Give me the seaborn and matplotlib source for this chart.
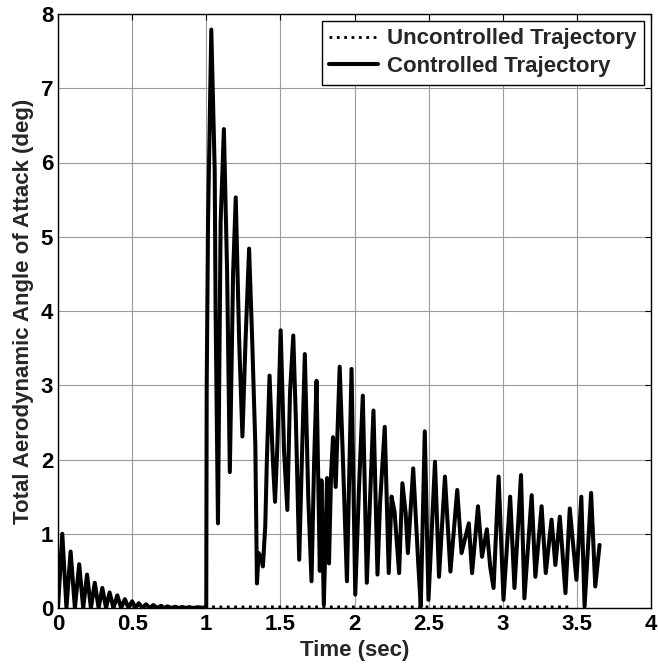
import matplotlib
matplotlib.use('Agg')
import matplotlib.pyplot as plt
import pandas as pd
import seaborn as sns

# 0-1 s: both trajectories coincide (rectified, decaying oscillation)
early_time = [0.0, 0.029, 0.057, 0.085, 0.114, 0.143, 0.170, 0.196, 0.222, 0.248,
              0.274, 0.299, 0.324, 0.348, 0.374, 0.400, 0.426, 0.451, 0.476, 0.500,
              0.523, 0.545, 0.570, 0.594, 0.619, 0.643, 0.669, 0.695, 0.717, 0.739,
              0.765, 0.790, 0.815, 0.839, 0.862, 0.884, 0.912, 0.940, 0.970, 0.995]
early_aoa = [0.0, 1.00, 0.0, 0.76, 0.0, 0.59, 0.0, 0.45, 0.0, 0.34,
             0.0, 0.27, 0.0, 0.21, 0.0, 0.17, 0.0, 0.12, 0.0, 0.09,
             0.0, 0.065, 0.0, 0.05, 0.0, 0.04, 0.0, 0.03, 0.0, 0.022,
             0.0, 0.017, 0.0, 0.014, 0.0, 0.012, 0.0, 0.01, 0.005, 0.005]

# uncontrolled after 1 s stays near zero
unc_time = [1.0, 3.47]
unc_aoa = [0.015, 0.015]

# controlled after 1 s
ctrl_time = [1.000, 1.003, 1.012, 1.034, 1.057, 1.063, 1.079, 1.097, 1.119, 1.141,
             1.159, 1.181, 1.199, 1.222, 1.244, 1.265, 1.289, 1.310, 1.331, 1.342,
             1.353, 1.369, 1.382, 1.398, 1.409, 1.427, 1.449, 1.464, 1.480, 1.502,
             1.525, 1.547, 1.565, 1.587, 1.605, 1.627, 1.645, 1.665, 1.688, 1.710,
             1.728, 1.744, 1.766, 1.777, 1.793, 1.815, 1.828, 1.842, 1.855, 1.873,
             1.900, 1.922, 1.949, 1.980, 2.005, 2.030, 2.056, 2.083, 2.128, 2.155,
             2.172, 2.204, 2.231, 2.250, 2.270, 2.285, 2.301, 2.323, 2.345, 2.360,
             2.396, 2.430, 2.447, 2.474, 2.499, 2.543, 2.570, 2.610, 2.647, 2.693,
             2.722, 2.771, 2.793, 2.833, 2.860, 2.893, 2.915, 2.938, 2.972, 3.005,
             3.050, 3.079, 3.123, 3.146, 3.195, 3.220, 3.262, 3.290, 3.329, 3.355,
             3.385, 3.423, 3.452, 3.497, 3.530, 3.552, 3.596, 3.624, 3.653]
ctrl_aoa = [0.01, 2.95, 5.20, 7.79, 5.90, 4.00, 1.14, 5.20, 6.45, 4.50,
            1.83, 4.50, 5.53, 3.60, 2.31, 3.60, 4.84, 3.60, 2.20, 0.33,
            0.74, 0.69, 0.56, 1.10, 2.00, 3.13, 2.00, 1.43, 2.20, 3.74,
            2.10, 1.32, 2.90, 3.67, 2.50, 0.65, 2.00, 3.42, 1.50, 0.36,
            2.00, 3.06, 0.50, 1.72, 0.04, 1.75, 0.60, 1.80, 2.30, 1.63,
            3.25, 2.00, 0.36, 3.22, 0.18, 1.60, 2.86, 0.34, 2.66, 0.45,
            1.40, 2.44, 0.47, 1.50, 1.30, 0.90, 0.47, 1.68, 1.28, 0.74,
            1.88, 0.60, 0.02, 2.38, 0.11, 1.97, 0.42, 1.77, 0.49, 1.59,
            0.74, 1.14, 0.47, 1.37, 0.69, 1.06, 0.56, 0.27, 1.77, 0.11,
            1.50, 0.27, 1.79, 0.13, 1.52, 0.42, 1.37, 0.47, 1.19, 0.58,
            1.23, 0.20, 1.34, 0.38, 1.50, 0.02, 1.55, 0.29, 0.85]

xticks = [0, 0.5, 1, 1.5, 2, 2.5, 3, 3.5, 4]
xtick_labels = ['0', '0.5', '1', '1.5', '2', '2.5', '3', '3.5', '4']
yticks = [0, 1, 2, 3, 4, 5, 6, 7, 8]

sns.set_style('white')
plt.rcParams['font.family'] = ['Liberation Sans', 'DejaVu Sans']
plt.rcParams['font.weight'] = 'bold'
plt.rcParams['axes.labelweight'] = 'bold'

df_unc = pd.DataFrame({'time': early_time + unc_time, 'aoa': early_aoa + unc_aoa})
df_ctrl = pd.DataFrame({'time': early_time + ctrl_time, 'aoa': early_aoa + ctrl_aoa})

fig = plt.figure(figsize=(6.58, 6.69), dpi=100)
ax = fig.add_axes([58 / 658, 1 - 608 / 669, 593 / 658, 594 / 669])

sns.lineplot(data=df_ctrl, x='time', y='aoa', color='black', linewidth=2.9,
             estimator=None, sort=False, ax=ax, legend=False)
ctrl_line = ax.lines[-1]
sns.lineplot(data=df_unc, x='time', y='aoa', color='black', linewidth=2.0,
             linestyle=':', estimator=None, sort=False, ax=ax, legend=False)
unc_line = ax.lines[-1]

ax.set_xlim(0, 4)
ax.set_ylim(0, 8)
ax.set_xticks(xticks, labels=xtick_labels)
ax.set_yticks(yticks)
ax.grid(True, color='#9a9a9a', linewidth=0.8)
ax.set_axisbelow(True)
for sp in ax.spines.values():
    sp.set_color('black')
    sp.set_linewidth(1.0)
ax.tick_params(direction='in', length=4, width=0.8, top=True, right=True,
               labelsize=16, colors='black')
ax.tick_params(axis='x', pad=4)

ax.set_xlabel('Time (sec)', fontsize=16, labelpad=4)
ax.set_ylabel('Total Aerodynamic Angle of Attack (deg)', fontsize=16, labelpad=5)

leg = ax.legend(handles=[unc_line, ctrl_line],
                labels=['Uncontrolled Trajectory', 'Controlled Trajectory'],
                loc='upper right', fontsize=16, frameon=True, fancybox=False,
                edgecolor='black', framealpha=1, borderpad=0.35, labelspacing=0.3,
                handlelength=2.2, handletextpad=0.4, borderaxespad=0.3)
leg.get_frame().set_linewidth(1.0)

fig.savefig('out.png', dpi=100)
plt.close(fig)
